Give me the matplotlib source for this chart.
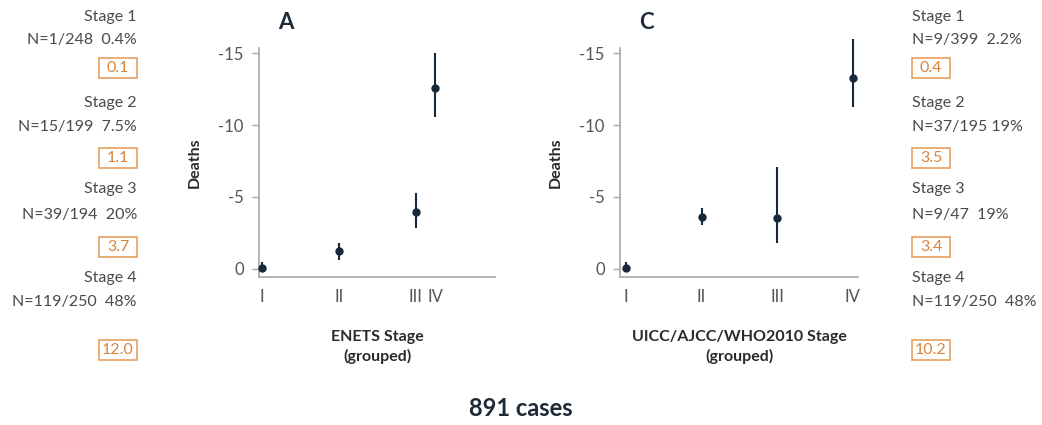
import numpy as np
import matplotlib
matplotlib.use("Agg")
import matplotlib.pyplot as plt
from matplotlib.patches import Rectangle

plt.rcParams['font.family'] = ['Lato', 'DejaVu Sans']
plt.rcParams['axes.unicode_minus'] = False

# panel A: ENETS stage (grouped)
a_x = [0, 1, 2, 2.25]
a_labels = ["I", "II", "III", "IV"]
a_mean = [0.07, 1.25, 3.96, 12.6]
a_lo = [0.0, 0.6, 2.85, 10.55]
a_hi = [0.5, 1.8, 5.3, 15.0]

# panel C: UICC/AJCC/WHO2010 stage (grouped)
c_x = [0, 1, 2, 3]
c_labels = ["I", "II", "III", "IV"]
c_mean = [0.05, 3.6, 3.55, 13.3]
c_lo = [0.0, 3.05, 1.8, 11.25]
c_hi = [0.5, 4.2, 7.1, 16.0]

# side annotations
a_stage = ["Stage 1", "Stage 2", "Stage 3", "Stage 4"]
a_n = ["N=1/248  0.4%", "N=15/199  7.5%", "N=39/194  20%", "N=119/250  48%"]
a_box = ["0.1", "1.1", "3.7", "12.0"]
c_stage = ["Stage 1", "Stage 2", "Stage 3", "Stage 4"]
c_n = ["N=9/399  2.2%", "N=37/195 19%", "N=9/47  19%", "N=119/250  48%"]
c_box = ["0.4", "3.5", "3.4", "10.2"]

W, H = 1042, 425
fig = plt.figure(figsize=(W / 100, H / 100), dpi=100)

navy = "#16283a"
grey = "#a8a8a8"
txt = "#4a4a4a"
orange = "#e8a060"
otxt = "#d8843a"


def panel(rect, x, labels, mean, lo, hi, title, xlabel, xmax, xmin):
    ax = fig.add_axes(rect)
    m = -np.array(mean)
    l = -np.array(lo)
    h = -np.array(hi)
    ax.vlines(x, h, l, color=navy, lw=1.5, clip_on=False, zorder=2)
    ax.plot(x, m, "o", color=navy, ms=5, clip_on=False, zorder=3)
    ax.set_xlim(xmin, xmax)
    ax.set_ylim(0.56, -15.35)
    ax.set_yticks([0, -5, -10, -15])
    ax.set_xticks(x)
    ax.set_xticklabels(labels)
    for s in ["top", "right"]:
        ax.spines[s].set_visible(False)
    for s in ["left", "bottom"]:
        ax.spines[s].set_color(grey)
        ax.spines[s].set_linewidth(1.2)
    ax.tick_params(axis="y", colors=grey, labelcolor="#555555", labelsize=12,
                   length=5, width=1, pad=6)
    ax.tick_params(axis="x", length=0, labelcolor="#555555", labelsize=12, pad=9)
    ax.set_ylabel("Deaths", fontsize=11.5, fontweight="bold", color="#2a2a2a", labelpad=12)
    ax.set_xlabel(xlabel, fontsize=11.5, fontweight="bold", color="#2a2a2a", labelpad=18,
                  linespacing=1.35)
    ax.set_title(title, loc="left", fontsize=16, fontweight="bold", color="#1e2a38",
                 x=0.08, pad=14)
    return ax


panel([259 / W, 1 - 277 / H, 236 / W, 229 / H], a_x, a_labels, a_mean, a_lo, a_hi,
      "A", "ENETS Stage\n(grouped)", 3.03, -0.04)
panel([620 / W, 1 - 277 / H, 238 / W, 229 / H], c_x, c_labels, c_mean, c_lo, c_hi,
      "C", "UICC/AJCC/WHO2010 Stage\n(grouped)", 3.07, -0.08)

ys_stage = [17, 103, 189, 278]
ys_n = [40, 127, 215, 302]
ys_box = [68, 158, 247, 350]
bw, bh = 38, 20


def side(x, ha, stages, ns, boxes):
    for st, n, b, y1, y2, y3 in zip(stages, ns, boxes, ys_stage, ys_n, ys_box):
        fig.text(x / W, 1 - y1 / H, st, ha=ha, va="center", fontsize=11.5, color=txt)
        fig.text(x / W, 1 - y2 / H, n, ha=ha, va="center", fontsize=11.5, color=txt)
        bx = x - bw if ha == "right" else x
        fig.patches.append(Rectangle((bx / W, 1 - (y3 + bh / 2) / H), bw / W, bh / H,
                                     transform=fig.transFigure, fill=False,
                                     edgecolor=orange, lw=1.2))
        fig.text((bx + bw / 2) / W, 1 - y3 / H, b, ha="center", va="center",
                 fontsize=11.5, color=otxt)


side(137, "right", a_stage, a_n, a_box)
side(912, "left", c_stage, c_n, c_box)

fig.text(521 / W, 1 - 408 / H, "891 cases", ha="center", va="center", fontsize=17,
         fontweight="bold", color="#1e2a38")

fig.savefig("out.png", dpi=100)
